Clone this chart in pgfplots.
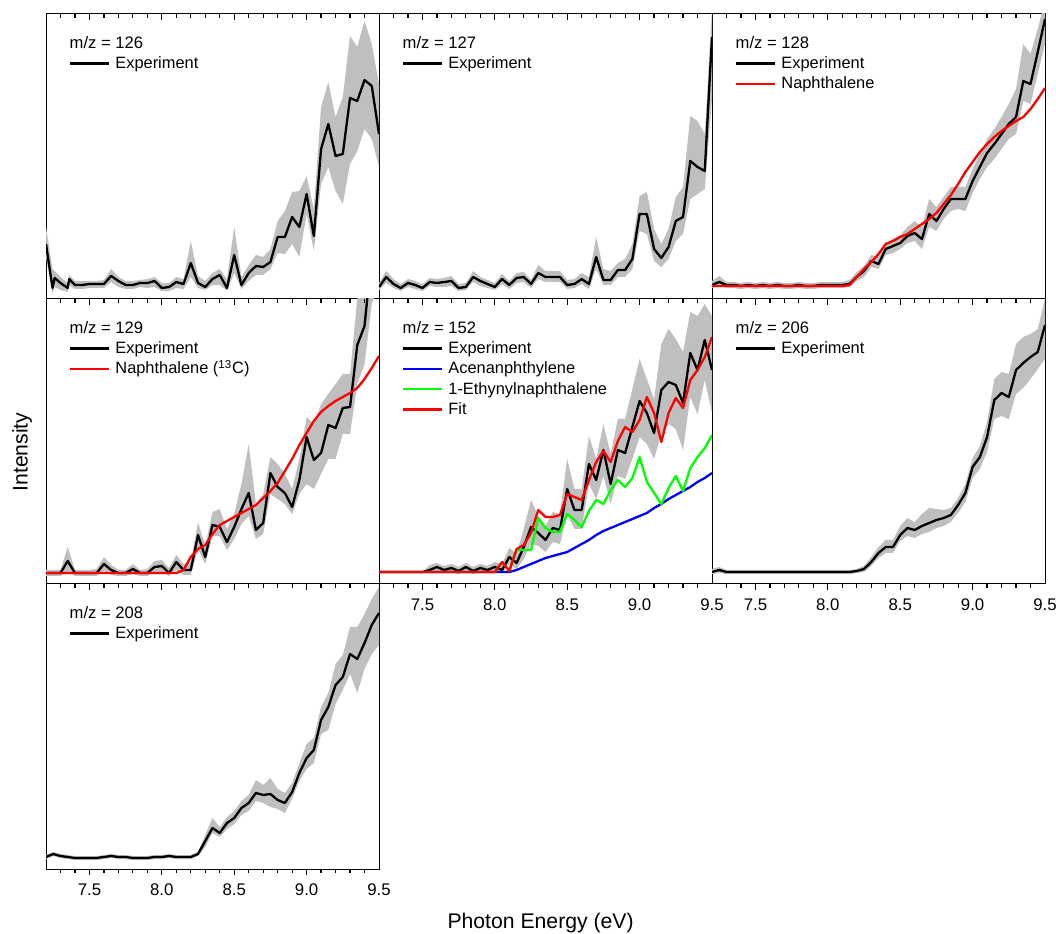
\documentclass[border=0pt]{standalone}
\usepackage{fontspec}
\setmainfont{Liberation Sans}
\usepackage{pgfplots}
\usepackage{pgfplotstable}
\pgfplotsset{compat=1.18}
\usepgfplotslibrary{fillbetween}

\pgfplotstableread{
x y lo hi
7.20 55 42 72
7.245 11 6 30
7.26 21 12 28
7.30 16 9 22
7.35 11 7 16
7.36 20 14 24
7.40 14 10 18
7.45 14 10 18
7.50 15 11 18
7.55 15 11 18
7.60 15 11 19
7.65 23 17 30
7.70 18 12 22
7.75 14 10 18
7.80 14 10 18
7.85 16 12 19
7.90 16 11 20
7.95 18 12 22
8.00 11 8 16
8.05 12 8 16
8.10 17 11 22
8.15 15 10 20
8.20 36 22 58
8.25 16 11 23
8.30 12 9 18
8.35 20 14 26
8.40 24 14 30
8.45 11 8 20
8.50 44 26 72
8.55 14 10 22
8.60 26 18 34
8.65 33 24 44
8.70 32 24 42
8.75 37 30 50
8.80 62 46 78
8.85 62 45 88
8.90 82 55 107
8.95 72 42 108
9.00 105 85 123
9.05 63 48 90
9.10 150 115 192
9.15 175 132 217
9.20 143 108 182
9.25 145 95 202
9.30 201 135 263
9.35 198 148 252
9.40 219 170 278
9.45 213 160 255
9.50 165 132 215
}\tA

\pgfplotstableread{
x y lo hi
7.20 12 9 16
7.25 22 16 28
7.30 15 11 20
7.35 11 8 15
7.40 16 12 20
7.45 14 10 18
7.50 11 8 15
7.55 17 13 21
7.60 16 12 20
7.65 17 12 21
7.70 18 13 23
7.75 11 8 15
7.80 12 9 16
7.85 22 17 28
7.90 18 13 22
7.95 15 11 19
8.00 12 9 16
8.05 20 15 25
8.10 14 10 18
8.15 21 16 26
8.20 22 17 27
8.25 15 11 19
8.30 26 20 34
8.35 22 17 28
8.40 22 17 28
8.45 22 17 28
8.50 14 10 19
8.55 15 11 20
8.60 20 15 26
8.65 15 10 22
8.70 42 30 62
8.75 19 14 30
8.80 19 14 28
8.85 29 22 36
8.90 29 22 40
8.95 40 30 55
9.00 85 68 103
9.05 85 65 107
9.10 50 38 70
9.15 41 32 55
9.20 52 40 70
9.25 78 58 102
9.30 82 65 112
9.35 138 100 183
9.40 132 105 178
9.45 128 110 165
9.50 262 200 290
}\tB

\pgfplotstableread{
x y lo hi r
7.20 14 11 18 13
7.25 17 13 23 13
7.30 14 11 17 13
7.35 14 11 17 13
7.40 13 10 16 13
7.45 14 11 17 13
7.50 13 10 16 13
7.55 14 11 17 13
7.60 13 10 16 13
7.65 14 11 17 13
7.70 13 10 16 13
7.75 13 10 16 13
7.80 14 11 17 13
7.85 13 10 16 13
7.90 13 10 16 13
7.95 14 11 17 13
8.00 14 11 17 13
8.05 14 11 17 13
8.10 14 11 17 13
8.15 15 12 19 14
8.20 22 18 27 22
8.25 28 22 33 30
8.30 38 32 44 37
8.35 35 30 42 45
8.40 50 44 56 55
8.45 53 46 60 58
8.50 56 50 64 62
8.55 63 56 72 65
8.60 66 58 78 70
8.65 60 50 72 75
8.70 85 72 100 80
8.75 78 68 92 86
8.80 90 80 102 95
8.85 100 88 112 104
8.90 100 90 112 115
8.95 100 88 112 127
9.00 118 106 130 137
9.05 132 120 145 147
9.10 146 132 160 155
9.15 155 140 170 162
9.20 165 150 182 168
9.25 175 160 195 173
9.30 182 165 210 178
9.35 218 198 255 182
9.40 215 195 245 190
9.45 247 225 270 200
9.50 280 255 300 211
}\tC

\pgfplotstableread{
x y lo hi r
7.20 11 8 14 11
7.25 11 8 14 11
7.30 11 8 14 11
7.35 23 12 37 11
7.40 11 8 14 11
7.45 11 8 14 11
7.50 11 8 14 11
7.55 11 8 15 11
7.60 20 13 27 11
7.65 14 9 19 11
7.70 11 8 14 11
7.75 11 8 14 11
7.80 15 10 20 11
7.85 11 8 14 11
7.90 11 8 15 11
7.95 17 12 23 11
8.00 18 12 24 11
8.05 11 8 16 11
8.10 22 14 29 11
8.15 14 9 20 14
8.20 14 9 22 27
8.25 49 35 62 35
8.30 27 20 38 39
8.35 59 48 72 50
8.40 57 48 75 59
8.45 42 34 55 63
8.50 57 45 70 67
8.55 75 60 100 71
8.60 91 68 140 75
8.65 54 45 80 79
8.70 61 50 90 86
8.75 111 90 127 93
8.80 97 85 120 101
8.85 91 80 110 113
8.90 77 70 95 125
8.95 104 90 125 139
9.00 147 100 167 151
9.05 124 95 160 163
9.10 131 110 180 172
9.15 159 125 190 178
9.20 156 125 200 183
9.25 176 150 210 187
9.30 177 150 210 191
9.35 239 200 285 196
9.40 258 220 310 205
9.45 330 280 360 216
9.50 350 300 380 228
}\tD

\pgfplotstableread{
x y lo hi b g r
7.20 12 12 12 12 12 12
7.25 12 12 12 12 12 12
7.30 12 12 12 12 12 12
7.35 12 12 12 12 12 12
7.40 12 12 12 12 12 12
7.45 12 12 12 12 12 12
7.50 12 12 12 12 12 12
7.55 14 11 19 12 12 12
7.60 17 12 21 12 12 12
7.65 14 11 18 12 12 12
7.70 16 12 20 12 12 12
7.75 13 10 17 12 12 12
7.80 17 13 21 12 12 12
7.85 13 10 17 12 12 12
7.90 16 12 20 12 12 12
7.95 14 11 18 12 12 12
8.00 17 12 22 12 12 12
8.05 14 11 20 12 22 22
8.10 27 20 36 12 13 13
8.15 21 15 30 14 34 35
8.20 37 25 55 17 34 39
8.25 57 40 84 20 34 51
8.30 51 38 68 23 66 74
8.35 44 32 58 26 56 67
8.40 56 42 72 28 52 67
8.45 54 40 70 30 52 69
8.50 95 70 125 32 70 90
8.55 74 55 95 36 64 87
8.60 74 55 95 40 57 84
8.65 120 100 148 44 73 104
8.70 104 85 125 49 84 122
8.75 134 108 160 53 80 133
8.80 100 80 130 56 94 122
8.85 134 108 165 59 104 143
8.90 131 105 165 62 97 157
8.95 157 125 195 65 106 152
9.00 183 147 225 68 127 164
9.05 171 140 205 71 102 187
9.10 151 125 185 76 91 171
9.15 194 150 240 80 80 142
9.20 202 160 255 85 96 171
9.25 199 155 245 89 108 186
9.30 181 134 232 93 93 176
9.35 231 187 272 97 116 204
9.40 214 170 268 102 127 214
9.45 244 204 280 106 136 227
9.50 214 171 268 111 149 247
}\tE

\pgfplotstableread{
x y lo hi
7.20 12 10 15
7.25 14 11 17
7.30 12 10 14
7.35 12 10 14
7.40 12 10 14
7.45 12 10 14
7.50 12 10 14
7.55 12 10 14
7.60 12 10 14
7.65 12 10 14
7.70 12 10 14
7.75 12 10 14
7.80 12 10 14
7.85 12 10 14
7.90 12 10 14
7.95 12 10 14
8.00 12 10 14
8.05 12 10 14
8.10 12 10 14
8.15 12 10 14
8.20 13 11 15
8.25 15 12 18
8.30 22 18 27
8.35 31 26 37
8.40 37 31 44
8.45 37 31 44
8.50 49 43 58
8.55 56 48 66
8.60 54 46 62
8.65 58 50 70
8.70 61 52 76
8.75 64 56 75
8.80 66 58 74
8.85 69 62 76
8.90 79 71 86
8.95 91 82 100
9.00 117 106 126
9.05 127 115 138
9.10 147 132 162
9.15 184 165 205
9.20 191 168 212
9.25 187 165 210
9.30 214 190 240
9.35 221 196 247
9.40 227 205 250
9.45 232 215 255
9.50 259 225 285
}\tF

\pgfplotstableread{
x y lo hi
7.20 12 10 14
7.25 15 13 17
7.30 13 11 15
7.35 12 10 14
7.40 11 9 13
7.45 11 9 13
7.50 11 9 13
7.55 11 9 13
7.60 12 10 14
7.65 13 11 15
7.70 12 10 14
7.75 12 10 14
7.80 11 9 13
7.85 11 9 13
7.90 11 9 13
7.95 12 10 14
8.00 12 10 14
8.05 13 11 15
8.10 12 10 14
8.15 12 10 14
8.20 12 10 14
8.25 15 13 17
8.30 28 22 34
8.35 41 36 51
8.40 36 32 42
8.45 46 40 52
8.50 51 45 58
8.55 61 54 68
8.60 66 58 74
8.65 76 68 89
8.70 74 66 84
8.75 75 62 91
8.80 69 60 80
8.85 66 56 76
8.90 77 70 86
8.95 96 88 106
9.00 111 100 125
9.05 119 106 131
9.10 149 135 162
9.15 162 139 176
9.20 184 165 205
9.25 192 179 214
9.30 215 195 242
9.35 210 176 242
9.40 226 200 255
9.45 244 215 270
9.50 256 224 282
}\tG

\pgfplotsset{
  panel/.style={
    scale only axis, width=166.5pt, height=142.5pt,
    anchor=south west,
    xmin=7.2, xmax=9.5, ymin=0, ymax=285,
    axis line style={line width=0.5pt},
    ytick=\empty,
    xtick={7.5,8.0,8.5,9.0,9.5},
    xtick pos=bottom, xtick align=inside,
    major tick length=0pt, minor tick length=0pt,
    xticklabels={},
    x tick label style={font=\fontsize{8.4}{10}\selectfont, yshift=-4pt},
    legend style={draw=none, fill=none, at={(rel axis cs:0.067,0.856)}, anchor=north west,
      inner sep=0pt, row sep=2.2pt, column sep=2.7pt,
      font=\fontsize{8.2}{10}\selectfont,
      nodes={inner sep=0pt, text height=6.5pt, text depth=1.5pt}},
    legend cell align=left,
    legend image code/.code={\draw[##1] (0pt,0pt) -- (19.5pt,0pt);},
  },
  labs/.style={xticklabels={7.5,8.0,8.5,9.0,9.5}},
}
\newcommand{\band}[1]{%
  \addplot[name path=hi, draw=none, forget plot] table[x=x,y=hi]{#1};
  \addplot[name path=lo, draw=none, forget plot] table[x=x,y=lo]{#1};
  \addplot[fill=black!25, draw=none, forget plot] fill between[of=hi and lo];
}
\newcommand{\mz}[1]{\node[anchor=west, inner sep=0pt, font=\fontsize{8.3}{10}\selectfont, text height=6.5pt, text depth=1.5pt] at (rel axis cs:0.070,0.898) {m/z = #1};}

\begin{document}
\begin{tikzpicture}

\begin{axis}[panel, at={(23pt,317pt)}]
\band{\tA}
\addplot[black, line width=1.15pt, line join=round] table[x=x,y=y]{\tA}; \addlegendentry{Experiment}
\mz{126}
\end{axis}

\begin{axis}[panel, at={(189.5pt,317pt)}]
\band{\tB}
\addplot[black, line width=1.15pt, line join=round] table[x=x,y=y]{\tB}; \addlegendentry{Experiment}
\mz{127}
\end{axis}

\begin{axis}[panel, at={(356pt,317pt)}]
\band{\tC}
\addplot[black, line width=1.15pt, line join=round] table[x=x,y=y]{\tC}; \addlegendentry{Experiment}
\addplot[red, line width=1.15pt, line join=round] table[x=x,y=r]{\tC}; \addlegendentry{Naphthalene}
\mz{128}
\end{axis}

\begin{axis}[panel, at={(23pt,174.5pt)}]
\band{\tD}
\addplot[black, line width=1.15pt, line join=round] table[x=x,y=y]{\tD}; \addlegendentry{Experiment}
\addplot[red, line width=1.15pt, line join=round] table[x=x,y=r]{\tD}; \addlegendentry{Naphthalene (\textsuperscript{13}C)}
\mz{129}
\end{axis}

\begin{axis}[panel, labs, at={(189.5pt,174.5pt)}]
\band{\tE}
\addplot[black, line width=1.15pt, line join=round] table[x=x,y=y]{\tE}; \addlegendentry{Experiment}
\addplot[blue, line width=1.15pt, line join=round] table[x=x,y=b]{\tE}; \addlegendentry{Acenanphthylene}
\addplot[green, line width=1.15pt, line join=round] table[x=x,y=g]{\tE}; \addlegendentry{1-Ethynylnaphthalene}
\addplot[red, line width=1.15pt, line join=round] table[x=x,y=r]{\tE}; \addlegendentry{Fit}
\mz{152}
\end{axis}

\begin{axis}[panel, labs, at={(356pt,174.5pt)}]
\band{\tF}
\addplot[black, line width=1.15pt, line join=round] table[x=x,y=y]{\tF}; \addlegendentry{Experiment}
\mz{206}
\end{axis}

\begin{axis}[panel, labs, at={(23pt,32pt)}]
\band{\tG}
\addplot[black, line width=1.15pt, line join=round] table[x=x,y=y]{\tG}; \addlegendentry{Experiment}
\mz{208}
\end{axis}

% tick marks of the seven frames: inward at the top, outward at the bottom
\foreach \xo/\yo in {23/317,189.5/317,356/317,23/174.5,189.5/174.5,356/174.5,23/32}{
  \foreach \v/\len in {7.3/1.8,7.4/1.8,7.5/3,7.6/1.8,7.7/1.8,7.8/1.8,7.9/1.8,8.0/3,8.1/1.8,8.2/1.8,8.3/1.8,8.4/1.8,8.5/3,8.6/1.8,8.7/1.8,8.8/1.8,8.9/1.8,9.0/3,9.1/1.8,9.2/1.8,9.3/1.8,9.4/1.8}{
    \draw[black, line width=0.6pt] ({\xo pt+(\v-7.2)*72.3913pt},{\yo pt+142.5pt}) -- ++(0pt,-\len pt);
    \draw[black, line width=0.6pt] ({\xo pt+(\v-7.2)*72.3913pt},{\yo pt}) -- ++(0pt,-\len pt);
  }
}

\node[rotate=90, anchor=base, font=\fontsize{10.6}{12}\selectfont] at (13.8pt,240.5pt) {Intensity};
\node[anchor=base, font=\fontsize{10.6}{12}\selectfont] at (270.3pt,2.4pt) {Photon Energy (eV)};
\pgfresetboundingbox
\path[use as bounding box] (0,0) rectangle (528pt,466.5pt);
\end{tikzpicture}
\end{document}
